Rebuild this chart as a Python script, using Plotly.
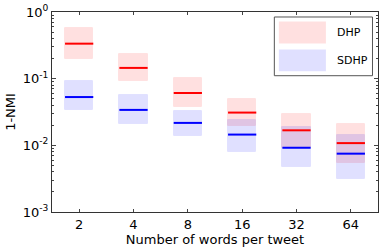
import plotly.graph_objects as go

categories = ["2", "4", "8", "16", "32", "64"]
dhp_med = [0.335, 0.145, 0.061, 0.031, 0.0168, 0.0108]
dhp_hi = [0.57, 0.235, 0.101, 0.0496, 0.0295, 0.0207]
dhp_lo = [0.195, 0.092, 0.0376, 0.0193, 0.0091, 0.0054]
sdhp_med = [0.053, 0.034, 0.0217, 0.0145, 0.0092, 0.0075]
sdhp_hi = [0.093, 0.056, 0.0324, 0.0243, 0.0186, 0.0143]
sdhp_lo = [0.0335, 0.021, 0.0140, 0.0079, 0.0048, 0.0031]
ytick_vals = [1e-3, 1e-2, 1e-1, 1]
ytick_text = ["10<sup>-3</sup>", "10<sup>-2</sup>", "10<sup>-1</sup>", "10<sup>0</sup>"]

pos = list(range(len(categories)))
HW = 0.26
FONT = "DejaVu Sans"

fig = go.Figure()

def add_series(lo, hi, med, fill, edge, line):
    fig.add_trace(go.Bar(
        x=pos, base=lo, y=[h - l for h, l in zip(hi, lo)], width=2 * HW,
        marker=dict(color=fill, line=dict(color=edge, width=1)),
        showlegend=False, hoverinfo="skip"))
    xs, ys = [], []
    for p, m in zip(pos, med):
        xs += [p - HW, p + HW, None]
        ys += [m, m, None]
    fig.add_trace(go.Scatter(x=xs, y=ys, mode="lines",
                             line=dict(color=line, width=2), showlegend=False))

add_series(dhp_lo, dhp_hi, dhp_med, "rgba(255,0,0,0.12)", "rgba(255,0,0,0.06)", "#ff0000")
add_series(sdhp_lo, sdhp_hi, sdhp_med, "rgba(0,0,255,0.12)", "rgba(0,0,255,0.06)", "#0000ff")

# legend drawn as layout decoration
def px2x(px):
    return (px - 52.5) / 325.5

def py2y(py):
    return (212 - py) / 200.3

shapes = [
    dict(type="rect", xref="paper", yref="paper", x0=px2x(274.5), x1=px2x(372.5),
         y0=py2y(75.5), y1=py2y(16.7), line=dict(color="#555", width=1), fillcolor="white"),
    dict(type="rect", xref="paper", yref="paper", x0=px2x(279), x1=px2x(326),
         y0=py2y(43.3), y1=py2y(21.3), line=dict(width=0), fillcolor="rgba(255,0,0,0.12)"),
    dict(type="rect", xref="paper", yref="paper", x0=px2x(279), x1=px2x(326),
         y0=py2y(71), y1=py2y(49.3), line=dict(width=0), fillcolor="rgba(0,0,255,0.12)"),
]
annotations = [
    dict(xref="paper", yref="paper", x=px2x(335), y=py2y(32), text="DHP", showarrow=False,
         xanchor="left", yanchor="middle", font=dict(family=FONT, size=11, color="black")),
    dict(xref="paper", yref="paper", x=px2x(335), y=py2y(60), text="SDHP", showarrow=False,
         xanchor="left", yanchor="middle", font=dict(family=FONT, size=11, color="black")),
]

fig.update_layout(
    width=382, height=249,
    margin=dict(l=52, r=4, t=12, b=37),
    plot_bgcolor="white", paper_bgcolor="white",
    barmode="overlay", bargap=0,
    font=dict(family=FONT, size=13, color="black"),
    shapes=shapes, annotations=annotations,
    showlegend=False,
)
fig.update_xaxes(
    range=[-0.5, 5.5], tickvals=pos, ticktext=categories,
    ticks="inside", ticklen=3, tickcolor="#444",
    showline=True, linecolor="#333", linewidth=1, mirror="allticks",
    showgrid=False, zeroline=False,
    title=dict(text="Number of words per tweet", standoff=2, font=dict(size=13)),
)
fig.update_yaxes(
    type="log", range=[-3, 0], tickvals=ytick_vals, ticktext=ytick_text,
    ticks="inside", ticklen=4, tickcolor="#444",
    minor=dict(ticks="inside", ticklen=2, tickcolor="#444", dtick="D1", showgrid=False),
    showline=True, linecolor="#333", linewidth=1, mirror="allticks",
    showgrid=False, zeroline=False,
    title=dict(text="1-NMI", standoff=4, font=dict(size=13)),
)

fig.write_html("out.html", config={"displayModeBar": False},
               post_script="document.body.style.margin='0';")
